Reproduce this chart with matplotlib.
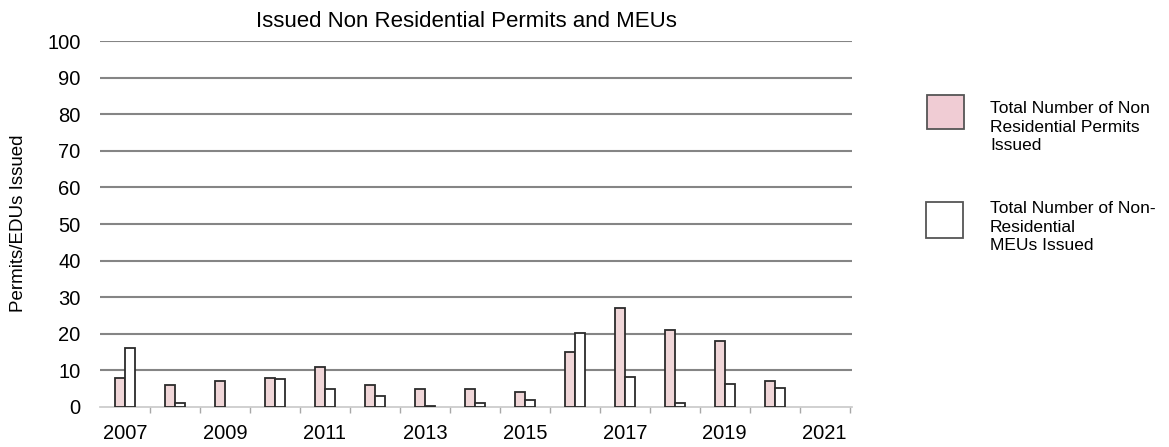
#!/usr/bin/env python3
"""
Issued non residential permits and MEUs per year, paired bars
"""

import matplotlib
matplotlib.use("Agg")
import matplotlib.pyplot as plt
import numpy as np

plt.rcParams['font.family'] = ['Liberation Sans', 'DejaVu Sans']

# Data (None = no bar drawn)
years = [2007, 2008, 2009, 2010, 2011, 2012, 2013, 2014, 2015, 2016, 2017, 2018, 2019, 2020, 2021]
permits = [8, 6, 7, 8, 11, 6, 5, 5, 4, 15, 27, 21, 18, 7, None]
meus = [16, 1, None, 7.6, 5, 3, 0.3, 1, 2, 20.3, 8.3, 1, 6.3, 5.3, None]
label_years = [2007, 2009, 2011, 2013, 2015, 2017, 2019, 2021]

permit_label = 'Total Number of Non\nResidential Permits\nIssued'
meu_label = 'Total Number of Non-\nResidential\nMEUs Issued'

PINK = '#f0d6d8'
EDGE = '#2b2b2b'


def only_drawn(xs, vals):
    """Keep the years that have a bar"""
    pairs = [(x, v) for x, v in zip(xs, vals) if v is not None]
    return [p[0] for p in pairs], [p[1] for p in pairs]


def plot_permits(output_path):
    fig = plt.figure(figsize=(11.69, 4.47), dpi=100)
    ax = fig.add_axes([0.0855, 0.0895, 0.6435, 0.8185])

    w = 0.2
    px, pv = only_drawn(years, permits)
    mx, mv = only_drawn(years, meus)
    ax.bar(np.array(px) - w / 2, pv, width=w, color=PINK, edgecolor=EDGE, linewidth=1.3, zorder=3)
    ax.bar(np.array(mx) + w / 2, mv, width=w, color='white', edgecolor=EDGE, linewidth=1.3, zorder=3)

    ax.set_xlim(2006.5, 2021.55)
    ax.set_ylim(0, 100)
    ax.set_yticks(range(0, 101, 10))

    # gridlines
    for v in range(10, 101, 10):
        ax.axhline(v, color='#858585', linewidth=1.5, zorder=1)

    # x labels sit under the categories, tick marks between categories
    ax.set_xticks(label_years)
    ax.set_xticklabels([str(y) for y in label_years])
    ax.set_xticks(np.arange(2007.5, 2022, 1.0), minor=True)
    ax.tick_params(axis='x', which='major', length=0, pad=12, labelsize=14.5)
    ax.tick_params(axis='x', which='minor', length=4, color='#a8a8a8', width=1)
    ax.tick_params(axis='y', length=0, pad=14, labelsize=14.5)

    for s in ['top', 'right', 'left']:
        ax.spines[s].set_visible(False)
    ax.spines['bottom'].set_color('#c8c8c8')
    ax.spines['bottom'].set_linewidth(1.2)

    fig.text(0.016, 0.50, 'Permits/EDUs Issued', fontsize=13.5, rotation=90,
             ha='center', va='center')
    fig.text(0.399, 0.951, 'Issued Non Residential Permits and MEUs', fontsize=16,
             ha='center', va='center')

    # legend drawn as boxes plus text to match the layout
    lax = fig.add_axes([0, 0, 1, 1], facecolor='none')
    lax.set_xlim(0, 1169)
    lax.set_ylim(447, 0)
    lax.axis('off')
    lax.add_patch(plt.Rectangle((927, 95), 37, 34, facecolor='#f0ccd4', edgecolor='#555555', linewidth=1.3))
    lax.add_patch(plt.Rectangle((926, 202), 37, 36, facecolor='white', edgecolor='#555555', linewidth=1.3))
    lax.text(990, 127, permit_label, fontsize=12.5, va='center', ha='left', linespacing=1.32)
    lax.text(990, 227, meu_label, fontsize=12.5, va='center', ha='left', linespacing=1.32)

    fig.savefig(output_path, dpi=100)
    plt.close(fig)


if __name__ == '__main__':
    plot_permits('out.png')
